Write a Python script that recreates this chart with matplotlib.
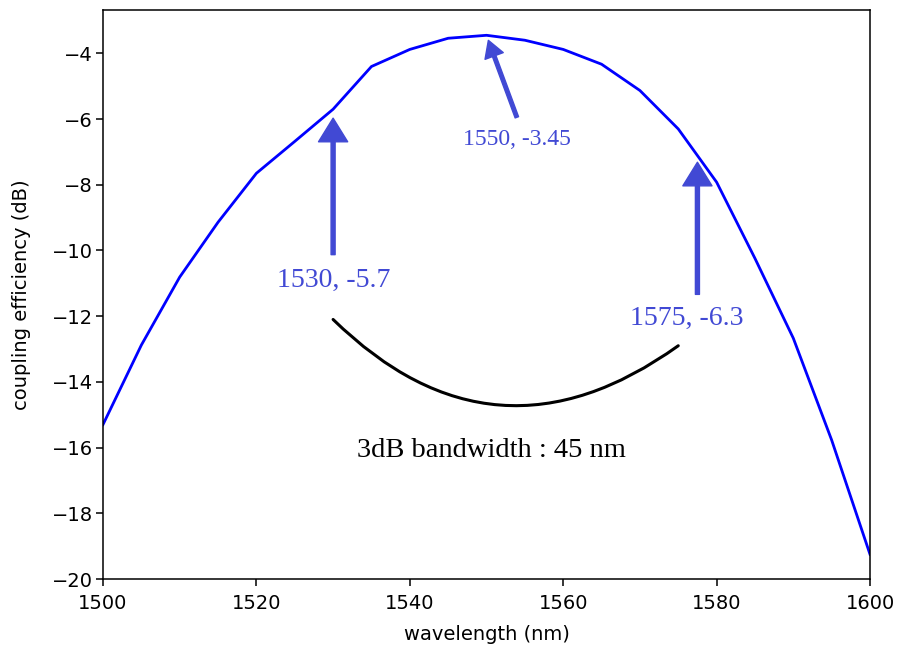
import matplotlib
matplotlib.use('Agg')
import matplotlib.pyplot as plt

# coupling efficiency vs wavelength
wavelength = [1500, 1505, 1510, 1515, 1520, 1525, 1530, 1535, 1540, 1545, 1550,
              1555, 1560, 1565, 1570, 1575, 1580, 1585, 1590, 1595, 1600]
efficiency = [-15.3, -12.88, -10.81, -9.14, -7.65, -6.68, -5.7, -4.4, -3.88, -3.54, -3.45,
              -3.6, -3.88, -4.33, -5.13, -6.3, -7.92, -10.24, -12.67, -15.77, -19.25]

# arrow tips / tails and their labels
arrow_tips = [(1530, -5.7), (1550, -3.45), (1577.5, -7.05)]
arrow_tails = [(1530, -10.4), (1554.2, -6.1), (1577.5, -11.6)]
label_pos = [(1530.1, -11.12), (1554.0, -6.8), (1576.1, -12.27)]
label_text = ['1530, -5.7', '1550, -3.45', '1575, -6.3']
label_size = [20, 17, 20]
shaft_w = [2.9, 2.6, 2.9]
head_w = [21, 14, 21]
head_l = [17, 12, 17]

# bandwidth bracket
bracket_start = (1530, -12.1)
bracket_end = (1575, -12.9)
bw_text = '3dB bandwidth : 45 nm'
bw_pos = (1550.65, -16.3)

ann_color = '#4149d4'

fig = plt.figure(figsize=(8.99, 6.46), dpi=100)
ax = fig.add_axes([103 / 899, 1 - 579 / 646, 767 / 899, 569 / 646])

ax.plot(wavelength, efficiency, color='b', lw=2.0)

for tip, tail, sw, w, l in zip(arrow_tips, arrow_tails, shaft_w, head_w, head_l):
    ax.annotate('', xy=tip, xytext=tail,
                arrowprops=dict(facecolor=ann_color, edgecolor=ann_color,
                                shrink=0.058, width=sw, headwidth=w, headlength=l))

for (x, y), t, s in zip(label_pos, label_text, label_size):
    ax.text(x, y, t, color=ann_color, fontsize=s, family='Liberation Serif',
            ha='center', va='baseline')

ax.annotate('', xy=bracket_end, xytext=bracket_start,
            arrowprops=dict(arrowstyle='-', color='black', lw=2.2,
                            connectionstyle='arc3,rad=0.42',
                            shrinkA=0, shrinkB=0))
ax.text(bw_pos[0], bw_pos[1], bw_text, color='black', fontsize=20.5,
        family='Liberation Serif', ha='center', va='baseline')

ax.set_xlim(1500, 1600)
ax.set_ylim(-20, -2.68)
ax.set_xticks([1500, 1520, 1540, 1560, 1580, 1600])
ax.set_yticks([-20, -18, -16, -14, -12, -10, -8, -6, -4])
ax.tick_params(labelsize=14, length=5, width=1.1)
ax.tick_params(axis='x', pad=5.5)
ax.tick_params(axis='y', pad=2.5)
for sp in ax.spines.values():
    sp.set_linewidth(1.1)
ax.set_xlabel('wavelength (nm)', fontsize=14)
ax.set_ylabel('coupling efficiency (dB)', fontsize=14)
ax.xaxis.set_label_coords(0.5, -0.08)
ax.yaxis.set_label_coords(-0.094, 0.5)

fig.savefig('out.png', dpi=100)
